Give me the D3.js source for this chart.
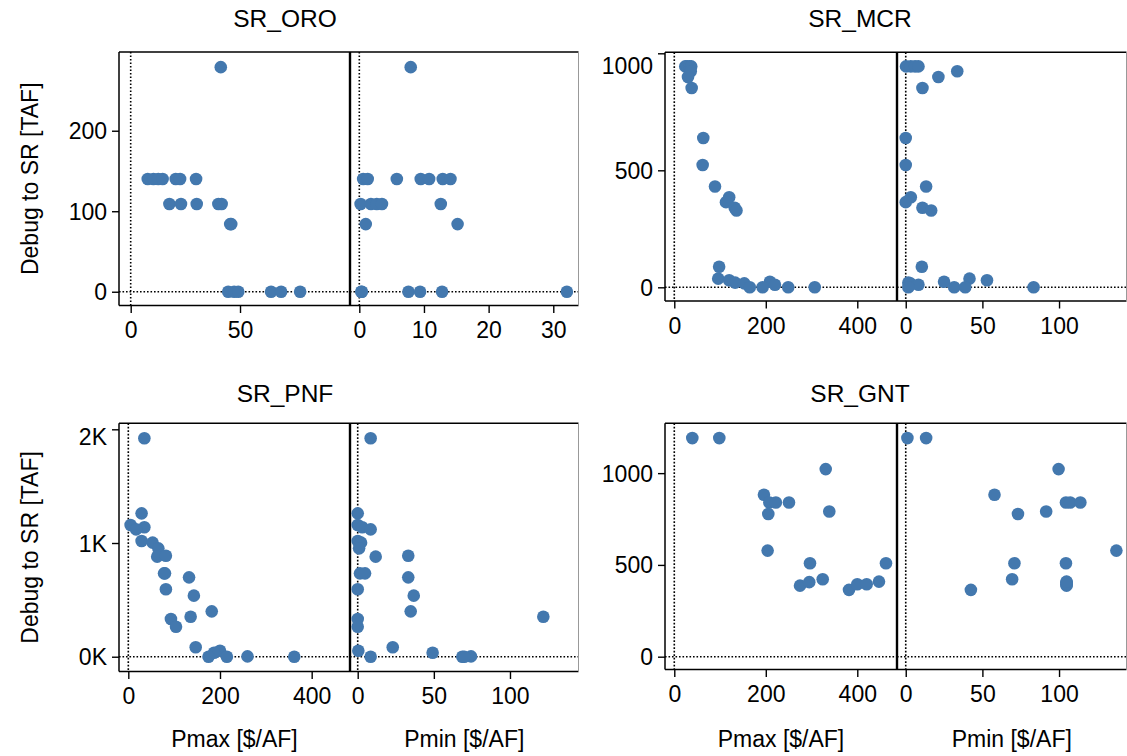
<!DOCTYPE html>
<html><head><meta charset="utf-8">
<script src="https://cdn.jsdelivr.net/npm/d3@7"></script>
<style>
body{margin:0;background:#fff}
text{font-family:"Liberation Sans",Arial,Helvetica,sans-serif;fill:#000}
</style>
</head><body>
<svg id="chart" width="1127" height="756"></svg>
<script>
// ---------------- DATA ----------------
const panelNames = ["SR_ORO", "SR_MCR", "SR_PNF", "SR_GNT"];
const yAxisTitle = "Debug to SR [TAF]";
const xAxisTitles = ["Pmax [$/AF]", "Pmin [$/AF]"];

const oroDebug = [279, 140,140,140,140,140,140,140, 109,109,109,109,109, 84,84, 0,0,0,0,0,0];
const oroPmax  = [41.2, 7.8,10.4,12.6,14.6,20.6,22.6,29.9, 17.7,23.0,30.2,40.1,41.6, 45.5,46.0, 44.6,47.3,49.2,64.2,68.8,77.5];
const oroPmin  = [7.95, 0.6,1.3,5.8,9.5,10.8,12.9,14.1, 0.2,1.8,2.7,3.5,12.6, 1.0,15.2, 0.3,0.4,7.6,9.4,12.8,32.1];

const mcrDebug = [944,944,944,944,923,899,852, 638,523,431,385,364,340,328, 88,37,30,24,20,17,11,0,0,0,0];
const mcrPmax  = [24,28,33,37,36,30,38, 63.4,62,89,120,113,132,136, 98,96,120,209,133,153,220,165,193,249,307];
const mcrPmin  = [0.2,3.3,6.1,8.3,33.6,21.3,10.9, 0,0,13.3,3.3,0,10.9,16.6, 10.5,41.6,53,25,1.7,3,8.3,1.7,31.6,38.8,83.4];

const pnfDebug = [1921,1261,1158,1138,1120,1018,1003,953,880,888,733,733,698,593,537,399,352,332,264,83,52,35,0,0,3,0];
const pnfPmax  = [35,29,5,35,17,29,53,65.5,63,82,78,80,132.5,82,143,182,136,93,104,147,200,187,175,215,260,362];
const pnfPmin  = [8.5,0,0,3,8.5,0,2.2,0.9,11.8,33.2,1.5,4.8,33.2,0,36.8,34.8,121.9,0,0,23,0.4,49.2,8.5,68.7,74.4,70];

const gntDebug = [1191,1191,1022,882,840,840,840,777,791,578,509,387,406,422,364,395,395,409,509];
const gntPmax  = [39.4,98.4,331,196,207.7,222,250.7,205.5,338.8,204,296.6,274.8,295,324.4,381.9,400,420.5,447.4,462.7];
const gntPmin  = [1.1,13.3,99.7,57.9,104.5,107.3,113.9,73.2,91.6,137.4,70.9,104.9,104.9,69.4,42.5,104.9,104.9,104.9,104.5];

const oroYTicks = [0, 100, 200];
const mcrYTicks = [0, 500, 1000];
const pnfYTicks = [0, 1000, 2000];
const gntYTicks = [0, 500, 1000];
const oroPmaxTicks = [0, 50];
const oroPminTicks = [0, 10, 20, 30];
const pmaxTicks = [0, 200, 400];
const pminTicks = [0, 50, 100];

// ---------------- LAYOUT ----------------
const DOT = "#4378ae";
const TICK_FS = 23, LABEL_FS = 23, TITLE_FS = 24.5;

const panels = [
  {title: panelNames[0], debug: oroDebug, pmax: oroPmax, pmin: oroPmin,
   x0: 119, xm: 350, x1: 578.5, y0: 52, y1: 305.5,
   yDom: [-17.1, 297.8], maxDom: [-5.35, 100.3], minDom: [-1.44, 33.9],
   yTicks: oroYTicks, yFmt: d => d, maxTicks: oroPmaxTicks, minTicks: oroPminTicks,
   yTitle: true, xTitle: false, titleX: 285, titleY: 18},
  {title: panelNames[1], debug: mcrDebug, pmax: mcrPmax, pmin: mcrPmin,
   x0: 665, xm: 897, x1: 1126.5, y0: 52.3, y1: 301,
   yDom: [-58.5, 1004.3], maxDom: [-20.3, 486.8], minDom: [-5.7, 144.0],
   yTicks: mcrYTicks, yFmt: d => d, maxTicks: pmaxTicks, minTicks: pminTicks,
   yTitle: false, xTitle: false, titleX: 860, titleY: 18},
  {title: panelNames[2], debug: pnfDebug, pmax: pnfPmax, pmin: pnfPmin,
   x0: 119, xm: 350, x1: 578.5, y0: 423.3, y1: 671.5,
   yDom: [-130, 2052.8], maxDom: [-20.3, 483.6], minDom: [-5.06, 145.0],
   yTicks: pnfYTicks, yFmt: d => (d / 1000) + "K", maxTicks: pmaxTicks, minTicks: pminTicks,
   yTitle: true, xTitle: true, titleX: 285, titleY: 393},
  {title: panelNames[3], debug: gntDebug, pmax: gntPmax, pmin: gntPmin,
   x0: 665, xm: 897, x1: 1126.5, y0: 423.3, y1: 669.5,
   yDom: [-69.8, 1271.5], maxDom: [-20.3, 486.8], minDom: [-5.7, 144.0],
   yTicks: gntYTicks, yFmt: d => d, maxTicks: pmaxTicks, minTicks: pminTicks,
   yTitle: false, xTitle: true, titleX: 860, titleY: 393}
];

const svg = d3.select("#chart");

panels.forEach(p => {
  const g = svg.append("g");
  const y = d3.scaleLinear().domain(p.yDom).range([p.y1, p.y0]);
  const xa = d3.scaleLinear().domain(p.maxDom).range([p.x0, p.xm]);
  const xb = d3.scaleLinear().domain(p.minDom).range([p.xm, p.x1]);

  // dotted zero lines
  const dash = "1.6,1.9";
  [[xa, p.x0, p.xm], [xb, p.xm, p.x1]].forEach(([xs, l, r]) => {
    g.append("line").attr("x1", xs(0)).attr("x2", xs(0)).attr("y1", p.y0).attr("y2", p.y1)
      .attr("stroke", "#000").attr("stroke-width", 1.6).attr("stroke-dasharray", dash);
    g.append("line").attr("x1", l).attr("x2", r).attr("y1", y(0)).attr("y2", y(0))
      .attr("stroke", "#000").attr("stroke-width", 1.6).attr("stroke-dasharray", dash);
  });

  // frames
  g.append("line").attr("x1", p.x0).attr("x2", p.x1).attr("y1", p.y0).attr("y2", p.y0).attr("stroke", "#000").attr("stroke-width", 1.5);
  g.append("line").attr("x1", p.x0).attr("x2", p.x1).attr("y1", p.y1).attr("y2", p.y1).attr("stroke", "#000").attr("stroke-width", 1.5);
  g.append("line").attr("x1", p.x0).attr("x2", p.x0).attr("y1", p.y0).attr("y2", p.y1).attr("stroke", "#000").attr("stroke-width", 1.5);
  g.append("line").attr("x1", p.xm).attr("x2", p.xm).attr("y1", p.y0).attr("y2", p.y1).attr("stroke", "#000").attr("stroke-width", 2.4);
  g.append("line").attr("x1", p.x1).attr("x2", p.x1).attr("y1", p.y0).attr("y2", p.y1).attr("stroke", "#999").attr("stroke-width", 1);

  // y axis
  const ya = g.append("g").attr("transform", `translate(${p.x0},0)`)
    .call(d3.axisLeft(y).tickValues(p.yTicks).tickFormat(p.yFmt).tickSize(7).tickPadding(5));
  ya.select(".domain").remove();
  ya.selectAll("line").attr("stroke", "#000").attr("stroke-width", 1.4);
  ya.selectAll("text").attr("font-size", TICK_FS).attr("font-family", null)
    .attr("dy", function(d){ const ty = y(d); return (Math.max(ty, p.y0 + 13) - ty + 8) + "px"; });

  // x axes
  [[xa, p.maxTicks], [xb, p.minTicks]].forEach(([xs, tv]) => {
    const ax = g.append("g").attr("transform", `translate(0,${p.y1})`)
      .call(d3.axisBottom(xs).tickValues(tv).tickSize(7.5).tickPadding(9));
    ax.select(".domain").remove();
    ax.selectAll("line").attr("stroke", "#000").attr("stroke-width", 1.4);
    ax.selectAll("text").attr("font-size", TICK_FS).attr("font-family", null);
  });

  // dots
  const pts = p.debug.map((v, i) => ({v, a: p.pmax[i], b: p.pmin[i]}));
  g.selectAll("circle.a").data(pts).join("circle").attr("class", "a")
    .attr("cx", d => xa(d.a)).attr("cy", d => y(d.v)).attr("r", 6.3).attr("fill", DOT);
  g.selectAll("circle.b").data(pts).join("circle").attr("class", "b")
    .attr("cx", d => xb(d.b)).attr("cy", d => y(d.v)).attr("r", 6.3).attr("fill", DOT);

  // titles
  g.append("text").attr("x", p.titleX).attr("y", p.titleY).attr("dy", "0.35em")
    .attr("text-anchor", "middle").attr("font-size", TITLE_FS).text(p.title);
  if (p.yTitle) {
    g.append("text").attr("transform", `translate(30,${(p.y0 + p.y1) / 2}) rotate(-90)`)
      .attr("dy", "0.35em").attr("text-anchor", "middle").attr("font-size", LABEL_FS).text(yAxisTitle);
  }
  if (p.xTitle) {
    [[p.x0, p.xm], [p.xm, p.x1]].forEach(([l, r], i) => {
      g.append("text").attr("x", (l + r) / 2).attr("y", 739).attr("dy", "0.35em")
        .attr("text-anchor", "middle").attr("font-size", LABEL_FS).text(xAxisTitles[i]);
    });
  }
});
</script>
</body></html>
